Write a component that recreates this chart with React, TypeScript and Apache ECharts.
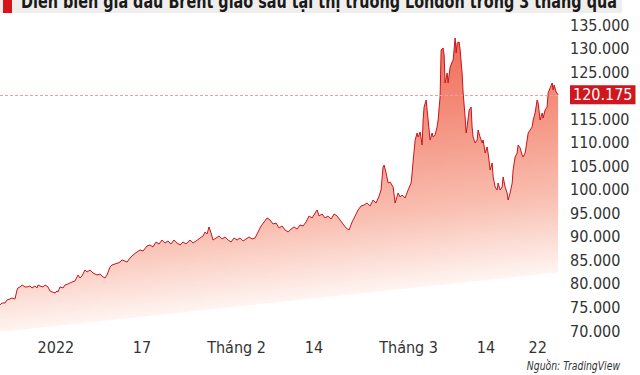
import React, { useEffect, useRef } from "react";
import * as echarts from "echarts";

const titleText = "Diễn biến giá dầu Brent giao sau tại thị trường London trong 3 tháng qua";
const sourceText = "Nguồn: TradingView";
const currentPrice = 120.175;

const tickDays = [7, 17, 28, 37, 48, 57, 63];
const tickLabels = ["2022", "17", "Tháng 2", "14", "Tháng 3", "14", "22"];

const tradingDay = [
  0.5, 0.73, 1.08, 1.31, 1.66, 1.9, 2.24, 2.48, 2.59, 2.83, 3.06, 3.41, 3.64, 3.99, 4.22, 4.57, 4.8, 4.92, 5.15, 5.5,
  5.73, 6.08, 6.31, 6.55, 6.9, 7.13, 7.24, 7.48, 7.83, 8.06, 8.41, 8.64, 8.87, 9.22, 9.45, 9.57, 9.8, 10.03, 10.38, 10.62,
  10.97, 11.31, 11.78, 12.13, 12.48, 12.71, 12.94, 13.29, 13.52, 13.87, 14.22, 14.45, 14.69, 15.27, 15.62, 15.97, 16.43, 16.78, 17.13, 17.59,
  17.94, 18.29, 18.64, 18.99, 19.34, 19.69, 20.03, 20.38, 20.73, 21.08, 21.43, 21.78, 22.13, 22.59, 22.94, 23.29, 23.76, 24.1, 24.34, 24.57,
  24.8, 25.03, 25.27, 25.62, 25.97, 26.31, 26.66, 27.01, 27.36, 27.71, 28.06, 28.41, 28.76, 29.1, 29.45, 29.8, 30.15, 30.5, 30.85, 31.2,
  31.55, 31.9, 32.24, 32.59, 32.94, 33.29, 33.64, 33.99, 34.34, 34.69, 35.03, 35.38, 35.73, 36.08, 36.43, 36.78, 37.13, 37.36, 37.59, 37.94,
  38.29, 38.64, 38.99, 39.34, 39.69, 40.03, 40.38, 40.73, 41.08, 41.43, 41.78, 42.13, 42.48, 42.83, 43.17, 43.52, 43.87, 44.22, 44.57, 44.8,
  45.03, 45.15, 45.38, 45.62, 45.85, 46.2, 46.43, 46.78, 47.01, 47.24, 47.59, 47.94, 48.29, 48.41, 48.52, 48.76, 48.99, 49.11, 49.34, 49.57,
  49.69, 49.8, 50.04, 50.15, 50.27, 50.5, 50.73, 50.85, 51.08, 51.31, 51.43, 51.66, 51.78, 52.01, 52.13, 52.24, 52.48, 52.59, 52.83, 53.06,
  53.18, 53.41, 53.53, 53.64, 53.87, 53.99, 54.22, 54.34, 54.57, 54.69, 54.8, 55.04, 55.27, 55.38, 55.5, 55.73, 55.97, 56.08, 56.31, 56.55,
  56.66, 56.9, 57.13, 57.24, 57.48, 57.71, 57.83, 58.06, 58.29, 58.41, 58.64, 58.87, 58.99, 59.22, 59.45, 59.57, 59.8, 60.04, 60.15, 60.38,
  60.62, 60.73, 60.97, 61.2, 61.31, 61.55, 61.78, 61.9, 62.13, 62.36, 62.48, 62.71, 62.94, 63.06, 63.29, 63.53, 63.64, 63.87, 64.1, 64.22,
  64.45, 64.69, 64.8, 64.92, 65.15, 65.38,
];

const price = [
  75.53, 75.95, 75.95, 76.59, 76.8, 77.01, 76.8, 78.71, 79.14, 79.35, 79.78, 79.35, 79.35, 79.56, 79.14, 79.56, 79.14, 79.78, 79.56, 79.35,
  79.78, 79.35, 78.5, 78.29, 78.08, 78.5, 78.29, 79.35, 79.14, 79.78, 79.99, 80.2, 80.41, 80.63, 81.48, 81.9, 81.26, 81.69, 82.96, 82.54,
  82.96, 82.32, 81.9, 82.11, 81.48, 81.26, 81.9, 83.6, 84.02, 84.24, 84.45, 84.66, 85.09, 84.66, 85.51, 86.15, 86.79, 87.21, 87.0, 88.06,
  88.27, 87.85, 88.91, 88.48, 89.33, 88.7, 89.12, 88.48, 89.33, 88.7, 88.27, 88.91, 88.48, 89.33, 88.7, 89.12, 89.76, 90.18, 91.03, 90.61,
  92.1, 90.82, 89.33, 89.76, 90.18, 89.55, 89.97, 89.33, 88.91, 89.76, 89.33, 89.76, 89.12, 89.55, 89.97, 89.55, 89.76, 91.03, 92.31, 93.16,
  94.01, 93.58, 92.73, 92.94, 91.88, 92.31, 91.46, 91.03, 91.67, 92.1, 91.67, 92.52, 92.31, 93.16, 94.43, 94.01, 95.07, 95.71, 94.43, 94.86,
  94.01, 94.43, 93.79, 94.86, 94.43, 93.58, 92.73, 91.88, 91.46, 93.16, 94.43, 95.71, 96.56, 96.77, 97.19, 96.56, 97.83, 97.19, 98.68, 99.95,
  104.84, 105.26, 103.56, 101.44, 101.65, 100.59, 97.19, 99.32, 98.47, 98.89, 98.25, 99.95, 101.44, 103.56, 105.9, 110.57, 112.06, 111.21, 112.27, 109.51,
  114.82, 117.58, 119.07, 116.95, 114.82, 110.57, 112.06, 111.21, 111.64, 113.34, 114.82, 119.71, 129.69, 130.11, 128.63, 122.68, 124.8, 122.68, 126.08, 127.14,
  127.57, 132.24, 129.05, 131.18, 131.39, 129.69, 124.8, 120.56, 115.46, 112.06, 113.34, 116.95, 117.58, 113.34, 111.21, 109.94, 110.57, 112.7, 111.21, 109.94,
  110.57, 107.81, 109.09, 107.81, 104.2, 105.69, 102.72, 100.59, 99.95, 101.44, 99.95, 100.59, 102.72, 100.59, 99.32, 97.83, 99.32, 101.44, 104.2, 106.96,
  107.81, 109.51, 108.87, 107.39, 106.96, 107.81, 110.57, 112.06, 112.7, 113.34, 114.82, 116.31, 119.07, 118.43, 114.82, 116.31, 115.25, 116.95, 117.58, 120.56,
  121.62, 122.68, 121.19, 122.26, 120.77, 120.175,
];

// lower edge of the fading fill (a slanted boundary in the reference)
const fadeEdgeDay = [0.5, 65.6];
const fadeEdgeValue = [69.8, 82.5];

const FONT = "'Liberation Sans Narrow', 'DejaVu Sans Condensed', 'Roboto', sans-serif";

export default function App() {
  const ref = useRef<HTMLDivElement>(null);

  useEffect(() => {
    if (!ref.current) return;
    const chart = echarts.init(ref.current, null, { renderer: "svg" });
    const lineData = tradingDay.map((d, i) => [d, price[i]]);
    const edgeData = fadeEdgeDay.map((d, i) => [d, fadeEdgeValue[i]]);

    chart.setOption({
      animation: false,
      backgroundColor: "#ffffff",
      grid: { left: 0, right: 80, top: 25, bottom: 44, containLabel: false },
      xAxis: {
        type: "value",
        min: 0.5,
        max: 65.6,
        axisLine: { show: false },
        axisTick: { show: false },
        splitLine: { show: false },
        axisLabel: {
          customValues: tickDays,
          formatter: (v: number) => {
            const idx = tickDays.indexOf(v);
            return idx >= 0 ? tickLabels[idx] : "";
          },
          color: "#333333",
          fontFamily: FONT,
          fontSize: 16,
          margin: 8,
        },
      },
      yAxis: {
        type: "value",
        position: "right",
        min: 70,
        max: 135,
        interval: 5,
        axisLine: { show: false },
        axisTick: { show: false },
        splitLine: { show: false },
        axisLabel: {
          formatter: (v: number) => (v === 120 ? "" : v.toFixed(3)),
          color: "#333333",
          fontFamily: FONT,
          fontSize: 16,
          margin: 10,
          align: "left",
        },
      },
      series: [
        {
          type: "line",
          data: lineData,
          showSymbol: false,
          silent: true,
          z: 2,
          lineStyle: { color: "#c8141c", width: 1 },
          areaStyle: {
            origin: "start",
            opacity: 1,
            color: {
              type: "linear",
              global: true,
              x: 533,
              y: 23,
              x2: 560,
              y2: 272,
              colorStops: [
                { offset: 0, color: "#ee6a56" },
                { offset: 0.3, color: "#f38b78" },
                { offset: 0.7, color: "#f9bfb1" },
                { offset: 1, color: "#fff5f2" },
              ],
            },
          },
          markLine: {
            silent: true,
            symbol: "none",
            lineStyle: { color: "#f0a0a0", width: 1, type: [3, 2] },
            label: {
              position: "end",
              distance: 10,
              formatter: () => currentPrice.toFixed(3),
              color: "#ffffff",
              backgroundColor: "#d0161e",
              padding: [2, 3, 1, 3],
              fontFamily: FONT,
              fontSize: 16,
            },
            data: [{ yAxis: currentPrice }],
          },
        },
        {
          type: "line",
          data: edgeData,
          showSymbol: false,
          silent: true,
          z: 3,
          lineStyle: { width: 0, opacity: 0 },
          areaStyle: { origin: "start", color: "#ffffff", opacity: 1 },
        },
      ],
      graphic: [
        { type: "rect", shape: { x: 0, y: 0, width: 622, height: 13 }, style: { fill: "#efeeec" }, z: 10 },
        { type: "rect", shape: { x: 3, y: 0, width: 9, height: 13 }, style: { fill: "#d7141a" }, z: 11 },
        {
          type: "text",
          x: 21,
          y: 1,
          scaleX: 0.8,
          z: 12,
          style: {
            text: titleText,
            fill: "#1a1a1a",
            font: `bold 20px ${FONT}`,
            verticalAlign: "middle",
            align: "left",
          },
        },
        {
          type: "text",
          x: 620,
          y: 366,
          scaleX: 0.86,
          z: 12,
          style: {
            text: sourceText,
            fill: "#333333",
            font: `italic 12px ${FONT}`,
            verticalAlign: "middle",
            align: "right",
          },
        },
      ],
    });
    return () => chart.dispose();
  }, []);

  return (
    <div
      ref={ref}
      style={{ position: "fixed", left: 0, top: 0, width: 640, height: 375 }}
    />
  );
}
